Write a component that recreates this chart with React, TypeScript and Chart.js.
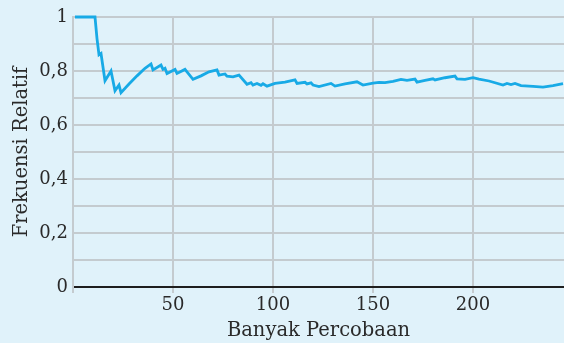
import React, { useEffect, useRef } from "react";
import { Chart, registerables } from "chart.js";

Chart.register(...registerables);

// Banyak percobaan (trial number) at each vertex of the line
const trialN = [
  1, 11, 12, 13, 14, 16, 19, 21, 23, 24, 28, 32, 36, 39, 40, 44, 45, 46, 47, 51,
  52, 56, 57, 60, 64, 68, 72, 73, 76, 77, 80, 83, 87, 89, 90, 92, 94, 95, 97, 101,
  106, 111, 112, 116, 117, 119, 120, 123, 129, 131, 136, 142, 145, 150, 153, 156, 160, 164, 167, 171,
  172, 176, 180, 181, 186, 191, 192, 196, 200, 203, 208, 215, 217, 219, 221, 224, 230, 235, 240, 245,
];
// Frekuensi relatif at each vertex
const relFreq = [
  1, 1, 0.92, 0.86, 0.865, 0.764, 0.8, 0.727, 0.748, 0.72, 0.752, 0.782, 0.81, 0.826, 0.804, 0.822, 0.806, 0.81, 0.791, 0.806,
  0.791, 0.806, 0.797, 0.769, 0.782, 0.797, 0.804, 0.785, 0.789, 0.781, 0.778, 0.785, 0.751, 0.757, 0.748, 0.754, 0.747, 0.753, 0.744, 0.754,
  0.759, 0.767, 0.754, 0.758, 0.752, 0.756, 0.748, 0.742, 0.754, 0.744, 0.752, 0.76, 0.748, 0.755, 0.758, 0.757, 0.762, 0.769, 0.765, 0.77,
  0.759, 0.765, 0.771, 0.767, 0.775, 0.781, 0.771, 0.769, 0.775, 0.77, 0.763, 0.748, 0.754, 0.75, 0.754, 0.746, 0.743, 0.74, 0.746, 0.753,
];
const xTicks = [50, 100, 150, 200];
const yLabelTicks = [0, 0.2, 0.4, 0.6, 0.8, 1];

const BG = "#e0f2fa";
const GRID = "#c4cbcf";
const TEXT = "#2a2a2a";
const LINE = "#18aae6";
const FONT = "'DejaVu Serif', serif";

export default function App() {
  const ref = useRef<HTMLCanvasElement>(null);
  useEffect(() => {
    document.body.style.margin = "0";
    document.body.style.background = BG;
    const canvas = ref.current!;
    const bgPlugin = {
      id: "bgfill",
      beforeDraw(chart: any) {
        const c = chart.ctx;
        c.save();
        c.fillStyle = BG;
        c.fillRect(0, 0, chart.width, chart.height);
        c.restore();
      },
    };
    const chart = new Chart(canvas, {
      type: "line",
      data: {
        datasets: [
          {
            data: trialN.map((n, i) => ({ x: n, y: relFreq[i] })),
            borderColor: LINE,
            borderWidth: 2.8,
            pointRadius: 0,
            tension: 0,
            fill: false,
            clip: 4,
          },
        ],
      },
      plugins: [bgPlugin],
      options: {
        animation: false,
        responsive: false,
        maintainAspectRatio: false,
        layout: { padding: { top: 17, right: 0, left: 0, bottom: 0 } },
        plugins: { legend: { display: false }, tooltip: { enabled: false } },
        scales: {
          x: {
            type: "linear",
            min: 0,
            max: 245.5,
            afterFit: (s: any) => {
              s.height = 56;
            },
            ticks: {
              stepSize: 50,
              includeBounds: false,
              autoSkip: false,
              maxRotation: 0,
              padding: 2,
              color: TEXT,
              font: { family: FONT, size: 18 },
              callback: (v: any) => (xTicks.includes(Number(v)) ? String(v) : ""),
            },
            grid: { display: true, color: GRID, lineWidth: 2, tickLength: 6, drawTicks: true, drawOnChartArea: true },
            border: { color: "#1e1e1e", width: 2 },
            title: {
              display: true,
              text: "Banyak Percobaan",
              color: TEXT,
              font: { family: FONT, size: 19.5 },
              padding: { top: 0, bottom: 0 },
            },
          },
          y: {
            type: "linear",
            min: 0,
            max: 1,
            afterFit: (s: any) => {
              s.width = 73;
            },
            ticks: {
              stepSize: 0.1,
              autoSkip: false,
              padding: 5,
              color: TEXT,
              font: { family: FONT, size: 18 },
              callback: (v: any) => {
                const n = Math.round(Number(v) * 10) / 10;
                const hit = yLabelTicks.some((t) => Math.abs(t - n) < 1e-6);
                return hit ? String(n).replace(".", ",") : "";
              },
            },
            grid: {
              display: true,
              color: (c: any) => (c.tick && Math.abs(c.tick.value) < 1e-6 ? "#1e1e1e" : GRID),
              lineWidth: 2,
              drawTicks: false,
              drawOnChartArea: true,
            },
            border: { color: GRID, width: 2 },
            title: {
              display: true,
              text: "Frekuensi Relatif",
              color: TEXT,
              font: { family: FONT, size: 19.5 },
              padding: { top: 10, bottom: 0 },
            },
          },
        },
      },
    } as any);
    return () => chart.destroy();
  }, []);
  return <canvas ref={ref} width={564} height={343} style={{ display: "block" }} />;
}
